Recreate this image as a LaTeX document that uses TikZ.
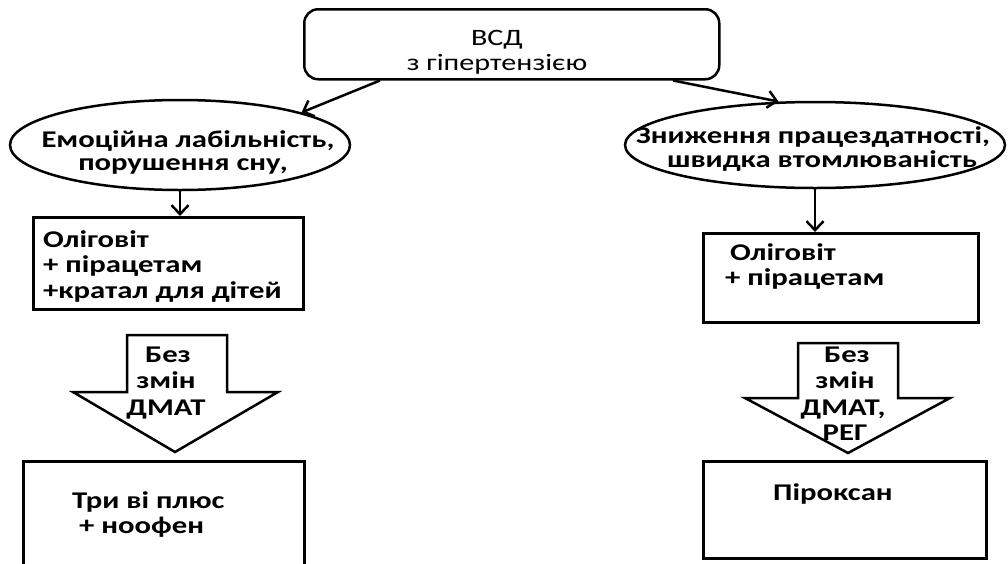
\documentclass[tikz,border=0pt]{standalone}
\usepackage{fontspec}
\setmainfont{Carlito}[FakeStretch=1.28]
\usetikzlibrary{arrows.meta,shapes.geometric}
\tikzset{
  ln/.style={line width=2.5pt},
  conn/.style={ln, -{Straight Barb[length=9pt,width=17pt,line width=2.5pt]}},
  boxn/.style={draw, ln, rectangle, inner sep=0pt, anchor=north west},
  ovaln/.style={draw, ln, ellipse, inner sep=0pt},
  blk/.style={draw, ln, line join=miter},
  bt/.style={font=\fontsize{24}{26}\selectfont\bfseries, anchor=base west, inner sep=0pt},
  ct/.style={font=\fontsize{24}{26}\selectfont\bfseries, anchor=base, inner sep=0pt},
  rt/.style={font=\fontsize{23.5}{26}\selectfont, anchor=base, inner sep=0pt},
}
\begin{document}
\begin{tikzpicture}[x=1pt,y=-1pt]
\useasboundingbox (0,0) rectangle (1008,563);
\clip (0,0) rectangle (1008,563);
% top box
\node[draw, ln, rounded corners=14pt, minimum width=415pt, minimum height=70pt, anchor=north west, inner sep=0pt] (top) at (303,8) {};
\node[rt] (t1) at (497,45) {ВСД};
\node[rt] (t2) at (497,70) {з гіпертензією};
% ellipses
\node[ovaln, minimum width=340pt, minimum height=90pt] (lo) at (180,145) {};
\node[ct] (lo1) at (188,147) {Емоційна лабільність,};
\node[ct] (lo2) at (183,170) {порушення сну,};
\node[ovaln, minimum width=380pt, minimum height=86pt] (ro) at (815,145) {};
\node[ct] (ro1) at (813,143) {Зниження працездатності,};
\node[ct] (ro2) at (822,167) {швидка втомлюваність};
% connectors from top
\draw[conn] ([xshift=77pt]top.south west) -- (lo.15);
\draw[conn] ([xshift=370pt]top.south west) -- (ro.130);
% first boxes
\node[boxn, minimum width=270pt, minimum height=92pt] (lb1) at (32,216) {};
\node[bt] (lb1a) at (43,247) {Оліговіт};
\node[bt] (lb1b) at (43,272) {+ пірацетам};
\node[bt] (lb1c) at (43,298) {+кратал для дітей};
\node[boxn, minimum width=275pt, minimum height=89pt] (rb1) at (702,232) {};
\node[bt] (rb1a) at (730,260) {Оліговіт};
\node[bt] (rb1b) at (725,285) {+ пірацетам};
\draw[conn] (lo.south) -- (lo.south |- lb1.north);
\draw[conn] (ro.south) -- (ro.south |- rb1.north);
% block arrows
\draw[blk] (127,335) -- (227,335) -- (227,392) -- (278,392) -- (175,452) -- (73,392) -- (127,392) -- cycle;
\node[ct] (la1) at (168,362) {Без};
\node[ct] (la2) at (166,388) {змін};
\node[ct] (la3) at (166,415) {ДМАТ};
\draw[blk] (798,343) -- (898,343) -- (898,398) -- (950,398) -- (848,453) -- (745,398) -- (798,398) -- cycle;
\node[ct] (ra1) at (847,362) {Без};
\node[ct] (ra2) at (845,388) {змін};
\node[ct] (ra3) at (843,415) {ДМАТ,};
\node[ct] (ra4) at (845,440) {РЕГ};
% second boxes
\node[boxn, minimum width=281pt, minimum height=120pt] (lb2) at (22,460) {};
\node[bt] (lb2a) at (72,508) {Три ві плюс};
\node[bt] (lb2b) at (72,533) {\ + ноофен};
\node[boxn, minimum width=283pt, minimum height=97pt] (rb2) at (702,460) {};
\node[bt] (rb2a) at (773,500) {Піроксан};
\end{tikzpicture}
\end{document}
